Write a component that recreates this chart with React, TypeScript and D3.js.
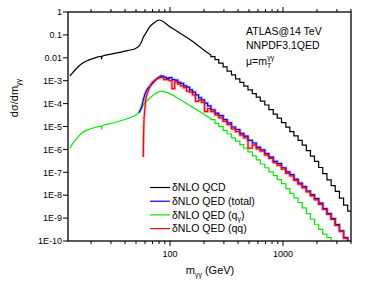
import React from "react";
import * as d3 from "d3";

const WIDTH = 378;
const HEIGHT = 284;
const PLOT = { left: 68, right: 351, top: 12, bottom: 241 };

const X_DOMAIN: [number, number] = [12.5, 4000];
const Y_DOMAIN: [number, number] = [1e-10, 1];
const X_LABELS: [number, string][] = [[100, "100"], [1000, "1000"]];
const Y_LABELS = ["1", "0.1", "0.01", "1E-3", "1E-4", "1E-5", "1E-6", "1E-7", "1E-8", "1E-9", "1E-10"];

// QCD: smooth part (mass, value) then histogram tail
const qcdMass = [13, 13.5, 14.5, 16.6, 19, 22, 24.6, 24.8, 25, 30, 36, 43, 49, 53, 56, 58, 62, 66, 72, 80, 100, 125, 150, 180, 210, 230];
const qcdVals = [1.6e-3, 2.0e-3, 3.0e-3, 5.6e-3, 7.9e-3, 1.02e-2, 1.17e-2, 8.7e-3, 1.17e-2, 1.45e-2, 1.74e-2, 2.1e-2, 2.5e-2, 3.2e-2, 5.0e-2, 7.9e-2, 0.135, 0.224, 0.33, 0.447, 0.224, 0.112, 0.063, 0.032, 0.018, 0.0132];

const tailEdges = [230, 250, 270, 295, 320, 350, 380, 415, 450, 490, 535, 580, 630, 690, 750, 820, 890, 970, 1060, 1150, 1250, 1360, 1480, 1610, 1750, 1900, 2070, 2250, 2450, 2670, 2900, 3160, 3440, 3740, 4000];
const qcdTail = [1.12e-2, 8.3e-3, 5.8e-3, 4.0e-3, 2.6e-3, 1.78e-3, 1.2e-3, 8.5e-4, 5.8e-4, 4.0e-4, 2.7e-4, 1.9e-4, 1.29e-4, 8.7e-5, 5.5e-5, 3.5e-5, 2.3e-5, 1.48e-5, 9.3e-6, 6.0e-6, 3.9e-6, 2.5e-6, 1.55e-6, 8.9e-7, 5.1e-7, 3.0e-7, 1.62e-7, 8.7e-8, 4.7e-8, 2.6e-8, 1.48e-8, 7.4e-9, 3.7e-9, 2.0e-9];

// QED q-gamma
const qgMass = [13, 13.5, 14.5, 16.6, 19, 22, 24.6, 24.8, 25, 30, 36, 43, 49, 53, 56, 58, 62, 68, 75, 83, 95, 110, 133, 160, 190, 230];
const qgVals = [1.12e-6, 1.58e-6, 2.5e-6, 5.2e-6, 7.4e-6, 9.3e-6, 1.05e-5, 7.6e-6, 1.05e-5, 1.35e-5, 1.74e-5, 2.3e-5, 3.0e-5, 4.0e-5, 6.0e-5, 8.7e-5, 1.26e-4, 1.95e-4, 2.8e-4, 3.5e-4, 3.0e-4, 2.1e-4, 1.17e-4, 6.8e-5, 4.0e-5, 2.2e-5];
const qgTail = [2.0e-5, 1.38e-5, 9.8e-6, 6.8e-6, 4.7e-6, 3.2e-6, 2.3e-6, 1.62e-6, 1.12e-6, 7.8e-7, 5.2e-7, 3.5e-7, 2.3e-7, 1.58e-7, 1.05e-7, 7.1e-8, 4.8e-8, 3.2e-8, 1.95e-8, 1.2e-8, 7.6e-9, 4.7e-9, 2.8e-9, 1.58e-9, 9.1e-10, 5.4e-10, 3.2e-10, 2.0e-10, 1.4e-10, 8.9e-11];

// QED total and qq: rise, then histogram from the peak
const peakEdges = [83, 88, 93, 98, 104, 110, 117, 124, 132, 140, 149, 158, 168, 179, 190, 202, 215];
const totMass = [53, 56, 58, 60, 63, 67, 72, 78, 83];
const totVals = [4.0e-5, 7.1e-5, 1.41e-4, 2.6e-4, 4.3e-4, 6.0e-4, 9.0e-4, 1.32e-3, 1.62e-3];
const totBins = [1.58e-3, 1.41e-3, 1.26e-3, 1.38e-3, 1.12e-3, 1.07e-3, 8.5e-4, 7.6e-4, 6.0e-4, 5.2e-4, 4.0e-4, 3.2e-4, 2.4e-4, 1.78e-4, 1.45e-4, 1.05e-4, 7.9e-5,
  5.4e-5, 3.8e-5, 3.0e-5, 2.0e-5, 1.45e-5, 9.5e-6, 7.4e-6, 5.0e-6, 3.8e-6, 2.5e-6, 1.9e-6, 1.26e-6, 9.5e-7, 6.6e-7, 4.6e-7, 3.0e-7, 2.4e-7, 1.58e-7, 1.05e-7, 7.9e-8, 5.0e-8, 3.4e-8, 2.4e-8, 1.51e-8, 1.05e-8, 7.1e-9, 4.5e-9, 2.6e-9, 1.58e-9, 9.5e-10, 5.2e-10, 2.8e-10, 1.4e-10, 6.3e-11];
const qqMass = [58, 58.3, 58.7, 60, 61, 64, 68, 75, 83];
const qqVals = [4.7e-7, 3.2e-6, 1.41e-5, 6.3e-5, 1.45e-4, 3.5e-4, 7.1e-4, 1.12e-3, 1.38e-3];
const qqBins = [1.38e-3, 1.12e-3, 1.12e-3, 1.0e-3, 4.5e-4, 8.9e-4, 7.1e-4, 6.0e-4, 5.0e-4, 3.5e-4, 3.2e-4, 2.4e-4, 1.26e-4, 1.41e-4, 1.12e-4, 4.5e-5, 6.0e-5,
  4.5e-5, 3.2e-5, 2.4e-5, 1.66e-5, 1.2e-5, 7.9e-6, 6.0e-6, 4.2e-6, 3.2e-6, 1.12e-6, 1.58e-6, 1.05e-6, 8.3e-7, 5.6e-7, 4.0e-7, 2.6e-7, 2.0e-7, 1.38e-7, 8.9e-8, 6.9e-8, 4.4e-8, 3.0e-8, 2.1e-8, 1.38e-8, 9.3e-9, 6.3e-9, 4.0e-9, 2.4e-9, 1.45e-9, 8.7e-10, 4.8e-10, 2.6e-10, 1.32e-10, 6.3e-11];

const FONT = "'Liberation Sans', Arial, sans-serif";

export default function App() {
  const x = d3.scaleLog().domain(X_DOMAIN).range([PLOT.left, PLOT.right]);
  const y = d3.scaleLog().domain(Y_DOMAIN).range([PLOT.bottom, PLOT.top]);

  const smooth = d3.line<[number, number]>().x((d) => x(d[0])).y((d) => y(d[1])).curve(d3.curveMonotoneX);
  const steps = d3.line<[number, number]>().x((d) => x(d[0])).y((d) => y(d[1])).curve(d3.curveStepAfter);

  // smooth points followed by histogram bins (edges + bin values)
  const buildPath = (mass: number[], vals: number[], edges: number[], bins: number[]) => {
    const a = smooth(mass.map((m, i) => [m, vals[i]] as [number, number])) || "";
    const b = steps(edges.map((e, i) => [e, bins[Math.min(i, bins.length - 1)]] as [number, number])) || "";
    return a + b.replace(/^M/, "L");
  };

  const blueEdges = peakEdges.concat(tailEdges);
  const series = [
    { name: "qcd", color: "#000000", d: buildPath(qcdMass, qcdVals, tailEdges, qcdTail) },
    { name: "qg", color: "#00ee00", d: buildPath(qgMass, qgVals, tailEdges.slice(0, qgTail.length + 1), qgTail) },
    { name: "tot", color: "#0000ff", halo: "rgba(80,80,255,0.35)", d: buildPath(totMass, totVals, blueEdges, totBins) },
    { name: "qq", color: "#ff0000", halo: "rgba(255,60,60,0.35)", d: buildPath(qqMass, qqVals, blueEdges, qqBins) },
  ];

  const xTicks = x.ticks();
  const yTicks = y.ticks();
  const isMajor = (v: number) => Math.abs(Math.log10(v) - Math.round(Math.log10(v))) < 1e-6;

  const legend = [
    { color: "#000000", text: "QCD", sub: null },
    { color: "#0000ff", text: "QED (total)", sub: null },
    { color: "#00ee00", text: "QED (q", sub: "γ" },
    { color: "#ff0000", text: "QED (qq)", sub: null },
  ];

  return (
    <div style={{ position: "absolute", left: 0, top: 0 }}>
      <svg width={WIDTH} height={HEIGHT} style={{ display: "block", background: "#fff" }} fontFamily={FONT}>
        <defs>
          <clipPath id="plotclip">
            <rect x={PLOT.left} y={PLOT.top} width={PLOT.right - PLOT.left} height={PLOT.bottom - PLOT.top} />
          </clipPath>
        </defs>

        <g clipPath="url(#plotclip)" fill="none">
          {series.map((s) =>
            s.halo ? <path key={s.name + "h"} d={s.d} stroke={s.halo} strokeWidth={3} /> : null
          )}
          {series.map((s) => (
            <path key={s.name} d={s.d} stroke={s.color} strokeWidth={1.2} strokeLinejoin="miter" />
          ))}
        </g>

        {/* frame */}
        <rect x={PLOT.left} y={PLOT.top} width={PLOT.right - PLOT.left} height={PLOT.bottom - PLOT.top} fill="none" stroke="#000" strokeWidth={1.3} />

        {/* x ticks bottom & top */}
        {xTicks.map((t, i) => {
          const len = isMajor(t) ? 5 : 3;
          const px = x(t);
          return (
            <g key={"xt" + i} stroke="#000" strokeWidth={1}>
              <line x1={px} x2={px} y1={PLOT.bottom} y2={PLOT.bottom + len} />
              <line x1={px} x2={px} y1={PLOT.top} y2={PLOT.top - len} />
            </g>
          );
        })}
        {X_LABELS.map(([v, s]) => (
          <text key={s} x={x(v)} y={257} fontSize={9} textAnchor="middle">{s}</text>
        ))}

        {/* y ticks */}
        {yTicks.map((t, i) => {
          const len = isMajor(t) ? 5 : 3;
          const py = y(t);
          return <line key={"yt" + i} x1={PLOT.left - len} x2={PLOT.left} y1={py} y2={py} stroke="#000" strokeWidth={1} />;
        })}
        {Y_LABELS.map((s, i) => (
          <text key={s} x={62} y={y(Math.pow(10, -i)) + 3.2} fontSize={9} textAnchor="end">{s}</text>
        ))}

        {/* axis titles */}
        <text x={210} y={274} fontSize={11} textAnchor="middle">
          m<tspan fontSize={7} dy={3}>γγ</tspan><tspan dy={-3}> (GeV)</tspan>
        </text>
        <text transform="translate(18,98) rotate(-90)" fontSize={11} textAnchor="middle">
          dσ/dm<tspan fontSize={7} dy={3}>γγ</tspan>
        </text>

        {/* annotation */}
        <g fontSize={10.5}>
          <text x={246} y={35}>ATLAS@14 TeV</text>
          <text x={246} y={48.5}>NNPDF3.1QED</text>
          <text x={246} y={65}>
            μ=m<tspan fontSize={7} dy={3}>T</tspan><tspan fontSize={7} dx={-4} dy={-8}>γγ</tspan>
          </text>
        </g>

        {/* legend */}
        {legend.map((l, i) => {
          const ly = 187.5 + i * 13.7;
          return (
            <g key={"lg" + i}>
              <line x1={150} x2={170} y1={ly} y2={ly} stroke={l.color} strokeWidth={1.2} />
              <text x={172} y={ly + 3.6} fontSize={10.5}>
                δNLO {l.text}
                {l.sub ? <tspan fontSize={7} dy={2.5}>{l.sub}</tspan> : null}
                {l.sub ? <tspan dy={-2.5}>)</tspan> : null}
              </text>
            </g>
          );
        })}
      </svg>
    </div>
  );
}
